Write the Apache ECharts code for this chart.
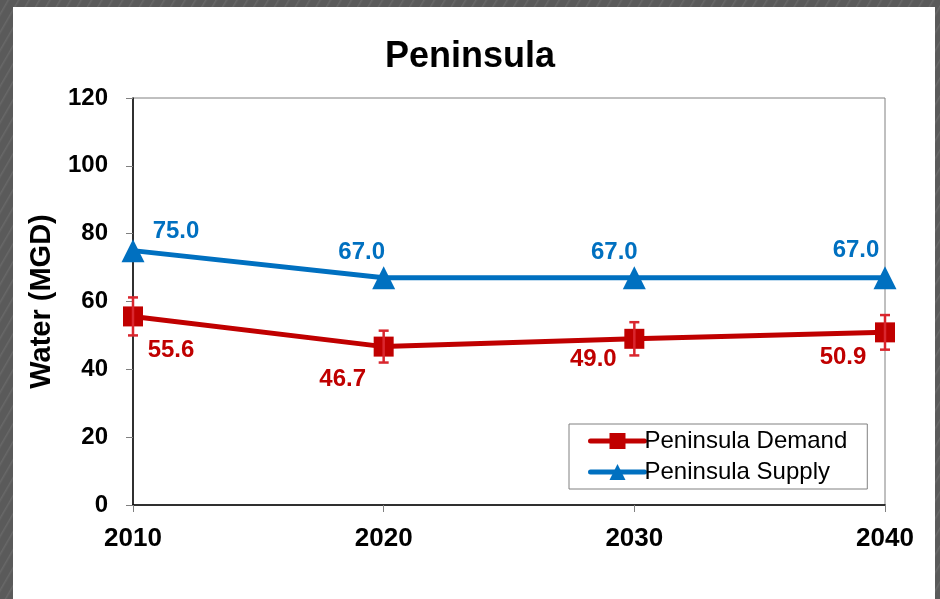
<!DOCTYPE html>
<html><head><meta charset="utf-8">
<script src="https://cdn.jsdelivr.net/npm/echarts@6/dist/echarts.min.js"></script>
<style>
html,body{margin:0;padding:0;width:940px;height:599px;overflow:hidden;
background:#5a5a5a repeating-linear-gradient(120deg,#5a5a5a 0px,#5a5a5a 6px,#686868 7px,#5a5a5a 9px);}
#frame{position:absolute;left:13px;top:7px;width:922px;height:592px;background:#fff;}
#chart{position:absolute;left:0;top:0;width:940px;height:599px;}
</style></head>
<body><div id="frame"></div><div id="chart"></div>
<script>
var categories = ['2010','2020','2030','2040'];
var demand = [55.6, 46.7, 49.0, 50.9];
var demandErr = [5.6, 4.7, 4.9, 5.1];
var supply = [75.0, 67.0, 67.0, 67.0];
var yTicks = [0, 20, 40, 60, 80, 100, 120];

var demandLabelOffsets = [[38,34],[-41,33],[-41,21],[-42,25]];
var supplyLabelOffsets = [[43,-19],[-22,-25],[-20,-25],[-29,-27]];

var chart = echarts.init(document.getElementById('chart'), null, {renderer:'canvas'});
var FONT = 'Liberation Sans, Arial, sans-serif';
var RED = '#C00000', BLUE = '#0070C0';

function mk(vals, offs){
  return vals.map(function(v,i){
    return {value:v, label:{offset:offs[i]}};
  });
}

var option = {
  animation:false,
  backgroundColor:'transparent',
  title:{text:'Peninsula', left:'center', top:34, textStyle:{fontFamily:FONT, fontWeight:'bold', fontSize:36, color:'#000'}},
  grid:{left:133, top:98, right:55, bottom:94, show:true, borderColor:'#808080', borderWidth:1, backgroundColor:'transparent'},
  legend:{
    left:569, top:424, orient:'vertical', itemGap:7, itemWidth:54, itemHeight:20,
    padding:[5,20,5,19], borderColor:'#808080', borderWidth:1, backgroundColor:'#fff',
    lineStyle:{width:5, cap:'round'},
    textStyle:{fontFamily:FONT, fontSize:24, color:'#000', padding:[0,0,0,-5]},
    data:['Peninsula Demand','Peninsula Supply']
  },
  xAxis:{
    type:'category', data:categories, boundaryGap:false,
    axisLine:{lineStyle:{color:'#000', width:1.5}},
    axisTick:{show:true, length:7, lineStyle:{color:'#808080'}},
    axisLabel:{fontFamily:FONT, fontWeight:'bold', fontSize:26, color:'#000', margin:21}
  },
  yAxis:{
    type:'value', min:0, max:120, interval:20,
    name:'Water (MGD)', nameLocation:'middle', nameGap:77,
    nameTextStyle:{fontFamily:FONT, fontWeight:'bold', fontSize:29, color:'#000'},
    axisLine:{show:true, lineStyle:{color:'#000', width:1.5}},
    axisTick:{show:true, length:7, lineStyle:{color:'#808080'}},
    splitLine:{show:false},
    axisLabel:{fontFamily:FONT, fontWeight:'bold', fontSize:24, color:'#000', margin:25,
      formatter:function(v){return yTicks.indexOf(v)>=0?String(v):'';}}
  },
  series:[
    {
      name:'Peninsula Demand', type:'line', data:mk(demand, demandLabelOffsets),
      symbol:'rect', symbolSize:20, z:3,
      lineStyle:{color:RED, width:5}, itemStyle:{color:RED},
      label:{show:true, position:'inside', fontFamily:FONT, fontWeight:'bold', fontSize:24, color:RED,
        formatter:function(p){return p.value.toFixed(1);}}
    },
    {
      name:'Peninsula Supply', type:'line', data:mk(supply, supplyLabelOffsets),
      symbol:'triangle', symbolSize:23, z:3,
      lineStyle:{color:BLUE, width:5}, itemStyle:{color:BLUE},
      label:{show:true, position:'inside', fontFamily:FONT, fontWeight:'bold', fontSize:24, color:BLUE,
        formatter:function(p){return p.value.toFixed(1);}}
    },
    {
      type:'custom', name:'err', z:4, silent:true,
      data:demand.map(function(v,i){return [i, v-demandErr[i], v+demandErr[i]];}),
      renderItem:function(params, api){
        var x = api.value(0);
        var lo = api.coord([x, api.value(1)]);
        var hi = api.coord([x, api.value(2)]);
        var hw = 5;
        var st = {stroke:'#D9262E', lineWidth:2.5};
        return {type:'group', children:[
          {type:'line', shape:{x1:lo[0],y1:lo[1],x2:hi[0],y2:hi[1]}, style:st},
          {type:'line', shape:{x1:lo[0]-hw,y1:lo[1],x2:lo[0]+hw,y2:lo[1]}, style:st},
          {type:'line', shape:{x1:hi[0]-hw,y1:hi[1],x2:hi[0]+hw,y2:hi[1]}, style:st}
        ]};
      }
    }
  ]
};
chart.setOption(option);
</script></body></html>
